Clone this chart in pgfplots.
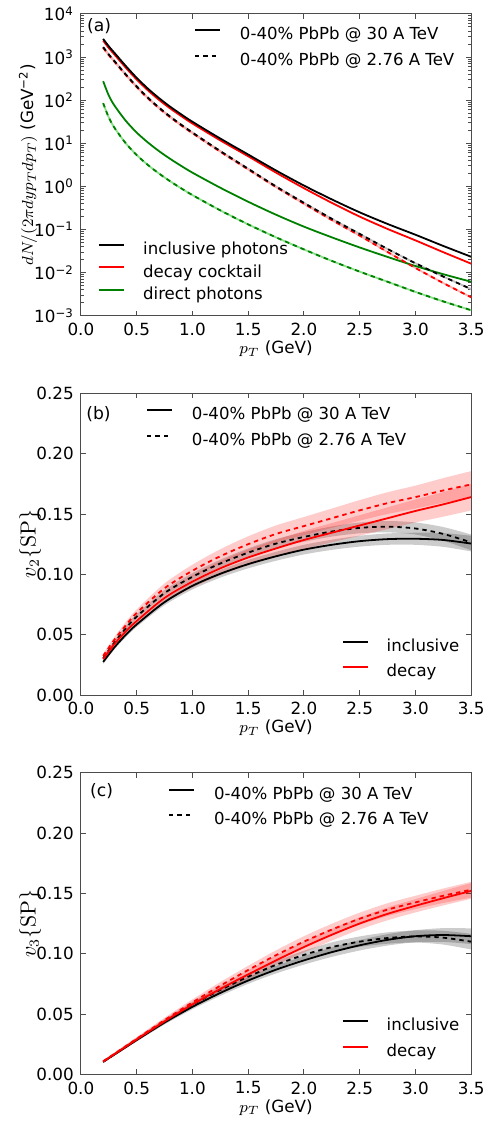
\documentclass[border=0pt]{standalone}
\usepackage{pgfplots}
\pgfplotsset{compat=1.18}
\usepackage{pgfplotstable}
\usepgfplotslibrary{fillbetween}
\usepackage[no-math]{fontspec}
\setmainfont{DejaVu Sans}

\definecolor{mpgreen}{HTML}{008000}
\definecolor{mpred}{HTML}{FF0000}
\definecolor{lgreen}{HTML}{88E088}

% panel (a): dN/(2 pi dy pT dpT)
\pgfplotstableread{
x     bs      rs      bd       rd       gs       gd
0.20  2630    2399    1698     1641     275      85.1
0.25  1778    1622    1148     1109     129      39.8
0.30  1259    1148    813      785      75.9     23.2
0.40  631     575     403      389      33.9     10.2
0.50  331     302     209      202      17.8     5.37
0.60  186     170     115      111      10.5     3.16
0.70  112     102     67.6     65.3     6.61     2.00
0.80  70.8    64.6    41.7     40.3     4.37     1.32
0.90  46.8    42.7    26.9     26.0     2.99     0.902
1.00  31.6    28.8    17.8     17.2     2.09     0.631
1.25  12.9    11.7    6.61     6.38     0.933    0.279
1.50  5.50    5.01    2.57     2.48     0.442    0.132
1.75  2.34    2.09    1.00     0.966    0.221    0.0661
2.00  1.05    0.912   0.417    0.398    0.117    0.0347
2.25  0.501   0.417   0.178    0.166    0.0661   0.0188
2.50  0.251   0.200   0.0794   0.0724   0.0385   0.0106
2.75  0.135   0.1035  0.0355   0.0302   0.0232   0.00617
3.00  0.0759  0.0562  0.0166   0.0129   0.0143   0.00359
3.25  0.0417  0.0299  0.00813  0.00575  0.00923  0.00216
3.50  0.0234  0.0162  0.00417  0.00269  0.00617  0.00135
}\tA

% panel (b): v2{SP}
\pgfplotstableread{
x     bs      ebs     rs      ers     bd      ebd     rd      erd
0.20  0.0275  0.0015  0.0300  0.0020  0.0305  0.0015  0.0325  0.0020
0.30  0.0395  0.0017  0.0422  0.0023  0.0435  0.0017  0.0458  0.0023
0.40  0.0497  0.0019  0.0525  0.0027  0.0550  0.0019  0.0575  0.0027
0.50  0.0585  0.0020  0.0614  0.0030  0.0650  0.0020  0.0680  0.0030
0.75  0.0770  0.0025  0.0805  0.0040  0.0845  0.0025  0.0885  0.0040
1.00  0.0905  0.0030  0.0940  0.0050  0.0980  0.0030  0.1030  0.0050
1.25  0.1005  0.0032  0.1050  0.0058  0.1090  0.0032  0.1150  0.0058
1.50  0.1085  0.0035  0.1140  0.0065  0.1180  0.0035  0.1250  0.0065
1.75  0.1150  0.0037  0.1215  0.0070  0.1255  0.0037  0.1335  0.0070
2.00  0.1205  0.0040  0.1285  0.0075  0.1310  0.0040  0.1400  0.0075
2.25  0.1245  0.0042  0.1345  0.0080  0.1355  0.0042  0.1465  0.0080
2.50  0.1275  0.0045  0.1405  0.0085  0.1385  0.0045  0.1530  0.0085
2.75  0.1292  0.0047  0.1465  0.0090  0.1395  0.0047  0.1590  0.0090
3.00  0.1295  0.0050  0.1525  0.0095  0.1380  0.0050  0.1640  0.0095
3.25  0.1285  0.0057  0.1580  0.0102  0.1335  0.0057  0.1695  0.0102
3.50  0.1255  0.0065  0.1640  0.0110  0.1265  0.0065  0.1745  0.0110
}\tB

% panel (c): v3{SP}
\pgfplotstableread{
x     bs      ebs     rs      ers     bd      ebd     rd      erd
0.20  0.0105  0.0008  0.0107  0.0010  0.0106  0.0008  0.0109  0.0010
0.30  0.0165  0.0009  0.0168  0.0011  0.0167  0.0009  0.0171  0.0011
0.40  0.0225  0.0011  0.0229  0.0013  0.0228  0.0011  0.0233  0.0013
0.50  0.0285  0.0012  0.0290  0.0015  0.0289  0.0012  0.0295  0.0015
0.75  0.0430  0.0016  0.0440  0.0020  0.0438  0.0016  0.0450  0.0020
1.00  0.0560  0.0020  0.0580  0.0025  0.0578  0.0020  0.0597  0.0025
1.25  0.0675  0.0024  0.0708  0.0030  0.0700  0.0024  0.0735  0.0030
1.50  0.0778  0.0027  0.0828  0.0035  0.0810  0.0027  0.0865  0.0035
1.75  0.0868  0.0031  0.0945  0.0040  0.0908  0.0031  0.0988  0.0040
2.00  0.0945  0.0035  0.1055  0.0045  0.0990  0.0035  0.1100  0.0045
2.25  0.1013  0.0039  0.1157  0.0048  0.1055  0.0039  0.1200  0.0048
2.50  0.1070  0.0043  0.1250  0.0050  0.1100  0.0043  0.1290  0.0050
2.75  0.1115  0.0047  0.1330  0.0053  0.1130  0.0047  0.1365  0.0053
3.00  0.1145  0.0050  0.1397  0.0055  0.1143  0.0050  0.1425  0.0055
3.25  0.1155  0.0057  0.1460  0.0060  0.1133  0.0057  0.1480  0.0060
3.50  0.1145  0.0065  0.1520  0.0065  0.1100  0.0065  0.1530  0.0065
}\tC

\pgfplotsset{
  legend image code/.code={\draw[#1] (0pt,2.6pt) -- (12.5pt,2.6pt);},
  panel/.style={
    scale only axis, width=195.5pt, height=151.25pt,
    xmin=0, xmax=3.5,
    xtick={0,0.5,1,1.5,2,2.5,3,3.5},
    xticklabels={0.0,0.5,1.0,1.5,2.0,2.5,3.0,3.5},
    tick align=inside,
    major tick length=2.6pt, minor tick length=1.4pt,
    axis line style={black!70, line width=0.5pt},
    every tick/.style={black!70, line width=0.4pt},
    tick label style={font=\fontsize{8.4}{10}\selectfont},
    label style={font=\fontsize{8.4}{10}\selectfont},
    xlabel={$p_T$ (GeV)},
    xlabel style={at={(axis description cs:0.5,-0.109)}, anchor=center},
    legend cell align=left,
    legend style={draw=none, fill=none, font=\fontsize{8.3}{10}\selectfont,
      inner sep=0pt, row sep=4.8pt,
      nodes={inner sep=0pt, text height=6.2pt, text depth=1.8pt},
      /tikz/every odd column/.style={column sep=9pt}},
  },
  leg/.style={
    scale only axis, width=195.5pt, height=151.25pt, hide axis,
    xmin=0, xmax=1, ymin=0, ymax=1,
    legend cell align=left,
    legend style={draw=none, fill=none, font=\fontsize{8.3}{10}\selectfont,
      inner sep=0pt, row sep=4.8pt,
      nodes={inner sep=0pt, text height=6.2pt, text depth=1.8pt},
      /tikz/every odd column/.style={column sep=9.5pt}},
  },
  ln/.style={line width=0.9pt, smooth},
  lg/.style={line width=1pt},
  dsh/.style={dash pattern=on 2.2pt off 2pt},
}

\begin{document}
\begin{tikzpicture}
\path (0,0) rectangle (250pt,-561pt);

% ================= panel (a) =================
\begin{axis}[panel, at={(40.5pt,-157.5pt)}, anchor=south west,
  ymode=log, ymin=1e-3, ymax=1e4,
  ytick={1e-3,1e-2,1e-1,1,1e1,1e2,1e3,1e4},
  yticklabels={10\textsuperscript{−3},10\textsuperscript{−2},10\textsuperscript{−1},10\textsuperscript{0},10\textsuperscript{1},10\textsuperscript{2},10\textsuperscript{3},10\textsuperscript{4}},
  ylabel={$dN/(2\pi dy p_T dp_T)$ (GeV\textsuperscript{−2})},
  ylabel style={at={(axis description cs:-0.1355,0.5)}, anchor=center},
  legend style={at={(0.0435,0.245)}, anchor=north west, row sep=3.2pt},
]
\addplot[ln, black!25, forget plot] table[x=x,y=bd] {\tA};
\addplot[ln, red!30, forget plot] table[x=x,y=rd] {\tA};
\addplot[ln, lgreen, forget plot] table[x=x,y=gd] {\tA};
\addplot[ln, mpgreen, forget plot] table[x=x,y=gs] {\tA};
\addplot[ln, mpgreen, dsh, forget plot] table[x=x,y=gd] {\tA};
\addplot[ln, mpred, dsh, forget plot] table[x=x,y=rd] {\tA};
\addplot[ln, black, dsh, forget plot] table[x=x,y=bd] {\tA};
\addplot[ln, mpred, forget plot] table[x=x,y=rs] {\tA};
\addplot[ln, black, forget plot] table[x=x,y=bs] {\tA};
\addlegendimage{black, lg}
\addlegendentry{inclusive photons}
\addlegendimage{mpred, lg}
\addlegendentry{decay cocktail}
\addlegendimage{mpgreen, lg}
\addlegendentry{direct photons}
\node[anchor=west, inner sep=0pt, font=\fontsize{8.6}{10}\selectfont] at (rel axis cs:0.015,0.96) {(a)};
\end{axis}
\begin{axis}[leg, at={(40.5pt,-157.5pt)}, anchor=south west,
  legend style={at={(0.289,0.957)}, anchor=north west, row sep=5pt}]
\addplot[draw=none, forget plot] coordinates {(0,0) (1,1)};
\addlegendimage{black, lg}
\addlegendentry{0-40\% PbPb @ 30 A TeV}
\addlegendimage{black, lg, dsh}
\addlegendentry{0-40\% PbPb @ 2.76 A TeV}
\end{axis}

% ================= panel (b) =================
\begin{axis}[panel, at={(40.5pt,-347.5pt)}, anchor=south west,
  ymin=0, ymax=0.25,
  ytick={0,0.05,0.1,0.15,0.2,0.25},
  yticklabels={0.00,0.05,0.10,0.15,0.20,0.25},
  ylabel={$v_2\{\mathrm{SP}\}$},
  ylabel style={at={(axis description cs:-0.13,0.5)}, anchor=center, font=\fontsize{10.5}{12}\selectfont},
  legend style={at={(0.6675,0.188)}, anchor=north west},
]
\addplot[name path=bsu, draw=none, smooth, forget plot] table[x=x,y expr=\thisrow{bs}+\thisrow{ebs}] {\tB};
\addplot[name path=bsl, draw=none, smooth, forget plot] table[x=x,y expr=\thisrow{bs}-\thisrow{ebs}] {\tB};
\addplot[black, fill opacity=0.2, draw=none, forget plot] fill between[of=bsu and bsl];
\addplot[name path=bdu, draw=none, smooth, forget plot] table[x=x,y expr=\thisrow{bd}+\thisrow{ebd}] {\tB};
\addplot[name path=bdl, draw=none, smooth, forget plot] table[x=x,y expr=\thisrow{bd}-\thisrow{ebd}] {\tB};
\addplot[black, fill opacity=0.2, draw=none, forget plot] fill between[of=bdu and bdl];
\addplot[name path=rsu, draw=none, smooth, forget plot] table[x=x,y expr=\thisrow{rs}+\thisrow{ers}] {\tB};
\addplot[name path=rsl, draw=none, smooth, forget plot] table[x=x,y expr=\thisrow{rs}-\thisrow{ers}] {\tB};
\addplot[mpred, fill opacity=0.2, draw=none, forget plot] fill between[of=rsu and rsl];
\addplot[name path=rdu, draw=none, smooth, forget plot] table[x=x,y expr=\thisrow{rd}+\thisrow{erd}] {\tB};
\addplot[name path=rdl, draw=none, smooth, forget plot] table[x=x,y expr=\thisrow{rd}-\thisrow{erd}] {\tB};
\addplot[mpred, fill opacity=0.2, draw=none, forget plot] fill between[of=rdu and rdl];
\addplot[ln, black, forget plot] table[x=x,y=bs] {\tB};
\addplot[ln, black, dsh, forget plot] table[x=x,y=bd] {\tB};
\addplot[ln, mpred, forget plot] table[x=x,y=rs] {\tB};
\addplot[ln, mpred, dsh, forget plot] table[x=x,y=rd] {\tB};
\addlegendimage{black, lg}
\addlegendentry{inclusive}
\addlegendimage{mpred, lg}
\addlegendentry{decay}
\node[anchor=west, inner sep=0pt, font=\fontsize{8.6}{10}\selectfont] at (rel axis cs:0.013,0.932) {(b)};
\end{axis}
\begin{axis}[leg, at={(40.5pt,-347.5pt)}, anchor=south west,
  legend style={at={(0.166,0.954)}, anchor=north west}]
\addplot[draw=none, forget plot] coordinates {(0,0) (1,1)};
\addlegendimage{black, lg}
\addlegendentry{0-40\% PbPb @ 30 A TeV}
\addlegendimage{black, lg, dsh}
\addlegendentry{0-40\% PbPb @ 2.76 A TeV}
\end{axis}

% ================= panel (c) =================
\begin{axis}[panel, at={(40.5pt,-537.5pt)}, anchor=south west,
  ymin=0, ymax=0.25,
  ytick={0,0.05,0.1,0.15,0.2,0.25},
  yticklabels={0.00,0.05,0.10,0.15,0.20,0.25},
  ylabel={$v_3\{\mathrm{SP}\}$},
  ylabel style={at={(axis description cs:-0.13,0.5)}, anchor=center, font=\fontsize{10.5}{12}\selectfont},
  legend style={at={(0.6675,0.188)}, anchor=north west},
]
\addplot[name path=bsu, draw=none, smooth, forget plot] table[x=x,y expr=\thisrow{bs}+\thisrow{ebs}] {\tC};
\addplot[name path=bsl, draw=none, smooth, forget plot] table[x=x,y expr=\thisrow{bs}-\thisrow{ebs}] {\tC};
\addplot[black, fill opacity=0.2, draw=none, forget plot] fill between[of=bsu and bsl];
\addplot[name path=bdu, draw=none, smooth, forget plot] table[x=x,y expr=\thisrow{bd}+\thisrow{ebd}] {\tC};
\addplot[name path=bdl, draw=none, smooth, forget plot] table[x=x,y expr=\thisrow{bd}-\thisrow{ebd}] {\tC};
\addplot[black, fill opacity=0.2, draw=none, forget plot] fill between[of=bdu and bdl];
\addplot[name path=rsu, draw=none, smooth, forget plot] table[x=x,y expr=\thisrow{rs}+\thisrow{ers}] {\tC};
\addplot[name path=rsl, draw=none, smooth, forget plot] table[x=x,y expr=\thisrow{rs}-\thisrow{ers}] {\tC};
\addplot[mpred, fill opacity=0.2, draw=none, forget plot] fill between[of=rsu and rsl];
\addplot[name path=rdu, draw=none, smooth, forget plot] table[x=x,y expr=\thisrow{rd}+\thisrow{erd}] {\tC};
\addplot[name path=rdl, draw=none, smooth, forget plot] table[x=x,y expr=\thisrow{rd}-\thisrow{erd}] {\tC};
\addplot[mpred, fill opacity=0.2, draw=none, forget plot] fill between[of=rdu and rdl];
\addplot[ln, black, forget plot] table[x=x,y=bs] {\tC};
\addplot[ln, black, dsh, forget plot] table[x=x,y=bd] {\tC};
\addplot[ln, mpred, forget plot] table[x=x,y=rs] {\tC};
\addplot[ln, mpred, dsh, forget plot] table[x=x,y=rd] {\tC};
\addlegendimage{black, lg}
\addlegendentry{inclusive}
\addlegendimage{mpred, lg}
\addlegendentry{decay}
\node[anchor=west, inner sep=0pt, font=\fontsize{8.6}{10}\selectfont] at (rel axis cs:0.023,0.937) {(c)};
\end{axis}
\begin{axis}[leg, at={(40.5pt,-537.5pt)}, anchor=south west,
  legend style={at={(0.2225,0.954)}, anchor=north west}]
\addplot[draw=none, forget plot] coordinates {(0,0) (1,1)};
\addlegendimage{black, lg}
\addlegendentry{0-40\% PbPb @ 30 A TeV}
\addlegendimage{black, lg, dsh}
\addlegendentry{0-40\% PbPb @ 2.76 A TeV}
\end{axis}
\end{tikzpicture}
\end{document}
